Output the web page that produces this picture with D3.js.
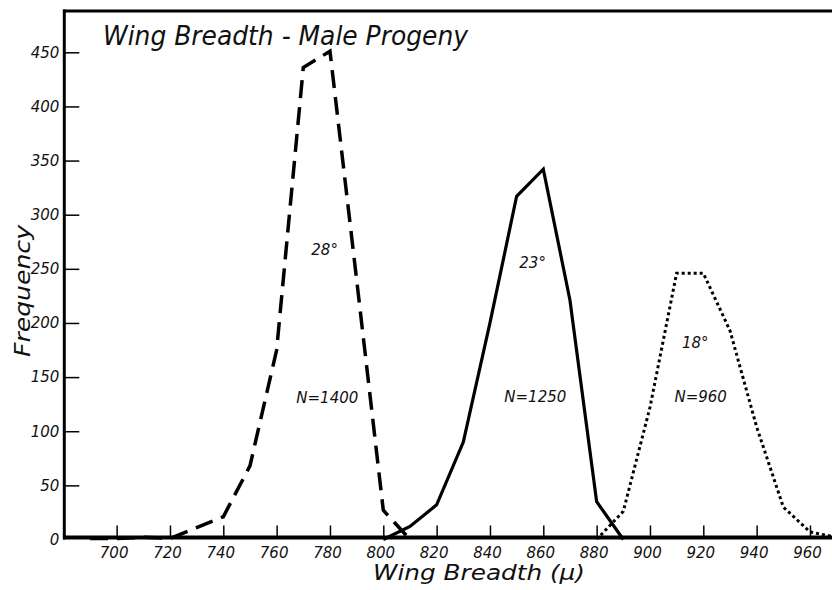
<!DOCTYPE html>
<meta charset="utf-8">
<style>
  body { margin: 0; background: #fff; }
  svg text {
    font-family: "DejaVu Sans", "Liberation Sans", sans-serif;
    font-style: italic;
    fill: #111;
  }
</style>
<svg width="832" height="590"></svg>
<script src="https://d3js.org/d3.v7.min.js"></script>
<script>
  // wing breadth classes (micra) and counts
  var breadth28 = [690, 700, 710, 720, 730, 740, 750, 760, 770, 780, 790, 800, 810];
  var freq28 = [1, 1, 2, 1, 11, 21, 68, 175, 436, 451, 240, 27, 0];

  var breadth23 = [800, 810, 820, 830, 840, 850, 860, 870, 880, 890];
  var freq23 = [0, 12, 32, 90, 200, 317, 342, 221, 35, 0];

  var breadth18 = [880, 890, 900, 910, 920, 930, 940, 950, 960, 970];
  var freq18 = [0, 26, 122, 246, 246, 193, 104, 30, 7, 2];

  var xTicks = [700, 720, 740, 760, 780, 800, 820, 840, 860, 880, 900, 920, 940, 960];
  var yTicks = [0, 50, 100, 150, 200, 250, 300, 350, 400, 450];

  var labels = [
    { text: "28°", bx: 778, fy: 268 },
    { text: "N=1400", bx: 779, fy: 131 },
    { text: "23°", bx: 856, fy: 256 },
    { text: "N=1250", bx: 857, fy: 132 },
    { text: "18°", bx: 917, fy: 182 },
    { text: "N=960", bx: 919, fy: 132 }
  ];

  var svg = d3.select("svg");

  var x = d3.scaleLinear().domain([680, 968]).range([63.3, 831.3]),
    y = d3.scaleLinear().domain([0, 450]).range([539.5, 52.3]);

  var frameTop = 11;

  // frame: top rule, left axis, bottom axis
  svg.append("line")
    .attr("x1", x(680)).attr("x2", 832)
    .attr("y1", frameTop).attr("y2", frameTop)
    .attr("stroke", "#000").attr("stroke-width", 3);

  svg.append("line")
    .attr("x1", x(680) + 1).attr("x2", x(680) + 1)
    .attr("y1", frameTop - 1.5).attr("y2", y(0))
    .attr("stroke", "#000").attr("stroke-width", 3);

  svg.append("line")
    .attr("x1", x(680)).attr("x2", 832)
    .attr("y1", y(0) - 2).attr("y2", y(0) - 2)
    .attr("stroke", "#000").attr("stroke-width", 4);

  // x axis ticks point up into the plot
  var xAxis = d3.axisTop(x)
    .tickValues(xTicks)
    .tickSize(12)
    .tickFormat(d3.format("d"));

  svg.append("g")
    .attr("transform", "translate(0," + (y(0) - 2) + ")")
    .call(customXAxis);

  var yAxis = d3.axisRight(y)
    .tickValues(yTicks)
    .tickSize(15)
    .tickFormat(d3.format("d"));

  svg.append("g")
    .attr("transform", "translate(" + (x(680) + 1) + ",0)")
    .call(customYAxis);

  function customXAxis(g) {
    g.call(xAxis);
    g.select(".domain").remove();
    g.selectAll(".tick line").attr("stroke", "#000").attr("stroke-width", 1.5);
    g.selectAll(".tick text")
      .attr("y", 20)
      .attr("dy", 0)
      .attr("dx", -3)
      .style("font-size", "15px");
  }

  function customYAxis(g) {
    g.call(yAxis);
    g.select(".domain").remove();
    g.selectAll(".tick line").attr("stroke", "#000").attr("stroke-width", 1.5);
    g.selectAll(".tick:first-of-type line").remove();
    g.selectAll(".tick text")
      .attr("x", -5)
      .attr("text-anchor", "end")
      .style("font-size", "15px");
  }

  var line = d3.line()
    .x(function(d) { return x(d[0]); })
    .y(function(d) { return y(d[1]); });

  function pairs(xs, ys) {
    return xs.map(function(v, i) { return [v, ys[i]]; });
  }

  var clip = svg.append("clipPath").attr("id", "plot")
    .append("rect")
    .attr("x", x(680)).attr("y", frameTop)
    .attr("width", 832 - x(680)).attr("height", y(0) - frameTop);

  svg.append("path")
    .datum(pairs(breadth28, freq28))
    .attr("d", line)
    .attr("fill", "none")
    .attr("stroke", "#000")
    .attr("stroke-width", 3.5)
    .attr("stroke-dasharray", "18,9");

  svg.append("path")
    .datum(pairs(breadth23, freq23))
    .attr("d", line)
    .attr("fill", "none")
    .attr("stroke", "#000")
    .attr("stroke-width", 3.2)
    .attr("stroke-linejoin", "miter");

  svg.append("path")
    .datum(pairs(breadth18, freq18))
    .attr("d", line)
    .attr("clip-path", "url(#plot)")
    .attr("fill", "none")
    .attr("stroke", "#000")
    .attr("stroke-width", 3)
    .attr("stroke-dasharray", "3,3");

  svg.selectAll(".note")
    .data(labels)
    .enter().append("text")
    .attr("class", "note")
    .attr("x", function(d) { return x(d.bx); })
    .attr("y", function(d) { return y(d.fy); })
    .attr("dy", "0.35em")
    .attr("text-anchor", "middle")
    .style("font-size", "15px")
    .text(function(d) { return d.text; });

  // titles
  svg.append("text")
    .attr("x", 103)
    .attr("y", 45)
    .attr("textLength", 365)
    .attr("lengthAdjust", "spacingAndGlyphs")
    .style("font-size", "26px")
    .text("Wing Breadth - Male Progeny");

  svg.append("text")
    .attr("x", 373)
    .attr("y", 580)
    .attr("textLength", 212)
    .attr("lengthAdjust", "spacingAndGlyphs")
    .style("font-size", "21px")
    .text("Wing Breadth (μ)");

  svg.append("text")
    .attr("transform", "translate(30,291) rotate(-90)")
    .attr("text-anchor", "middle")
    .attr("textLength", 132)
    .attr("lengthAdjust", "spacingAndGlyphs")
    .style("font-size", "22px")
    .text("Frequency");
</script>
